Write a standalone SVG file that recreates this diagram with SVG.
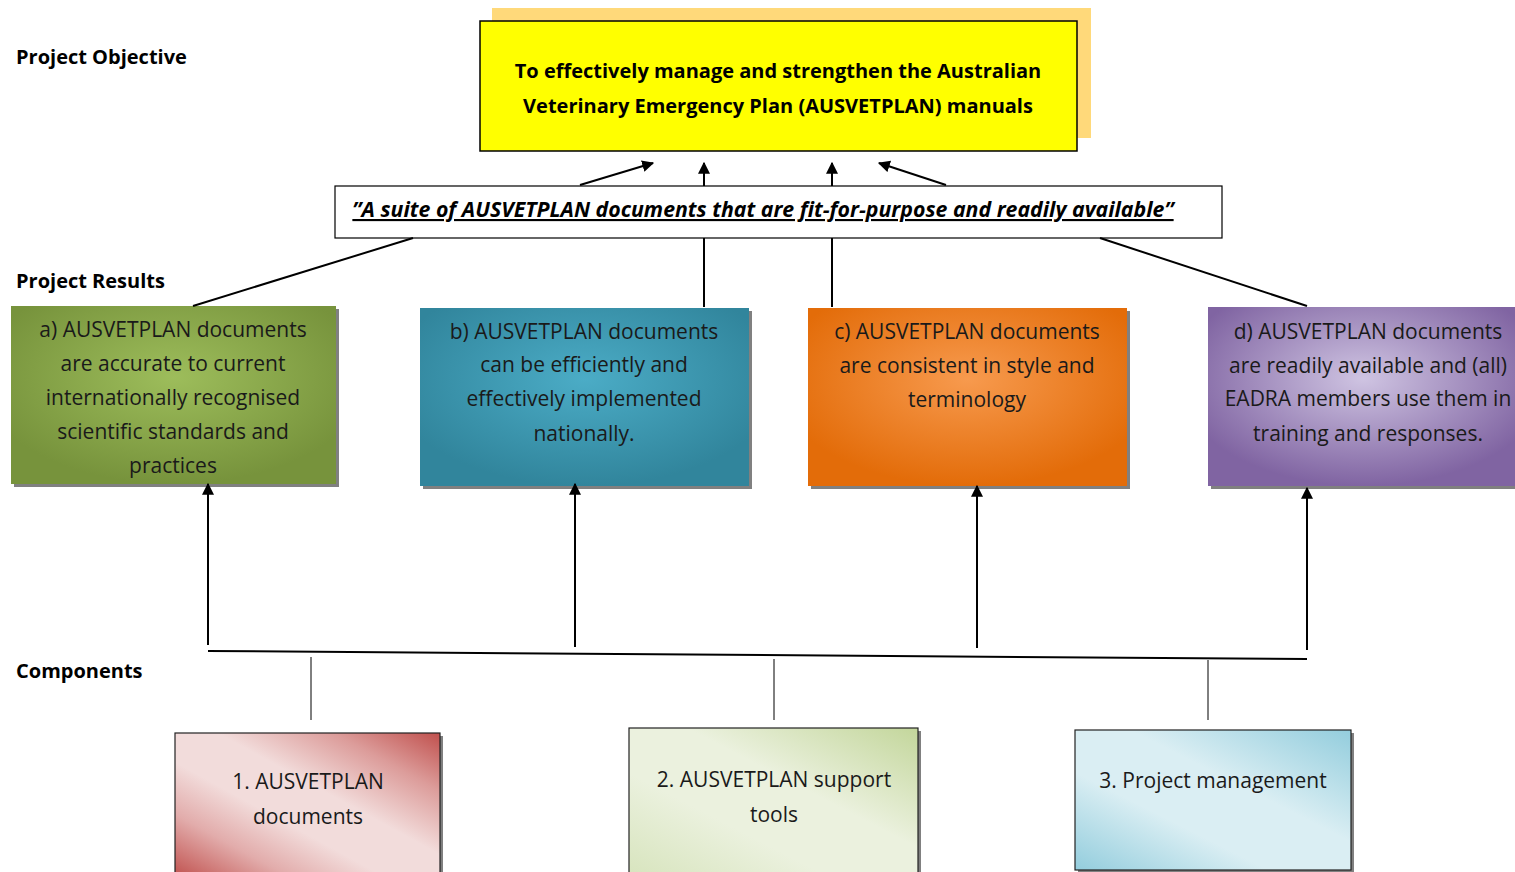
<svg xmlns="http://www.w3.org/2000/svg" width="1515" height="872" viewBox="0 0 1515 872">
<defs>
<style>
.lbl{font-family:"Open Sans","Liberation Sans",sans-serif;font-weight:bold;font-size:20px;fill:#000}
.obj{font-family:"Open Sans","Liberation Sans",sans-serif;font-weight:bold;font-size:20px;fill:#000;text-anchor:middle}
.suite{font-family:"Open Sans","Liberation Sans",sans-serif;font-weight:bold;font-style:italic;font-size:21.3px;fill:#000;text-anchor:middle;text-decoration:underline}
.res{font-family:"Open Sans","Liberation Sans",sans-serif;font-size:21px;fill:#1a1a1a;text-anchor:middle}
.comp{font-family:"Open Sans","Liberation Sans",sans-serif;font-size:21px;fill:#1a1a1a;text-anchor:middle}
.ln{stroke:#000;stroke-width:2;fill:none}
.thin{stroke:#000;stroke-width:1;fill:none}
.shadow{fill:#555;opacity:0.75}
</style>
<marker id="ah2" viewBox="0 0 10 10" refX="9" refY="5" markerWidth="12" markerHeight="12" markerUnits="userSpaceOnUse" orient="auto">
<path d="M0,0 L10,5 L0,10 z" fill="#000"/>
</marker>
<radialGradient id="gGreen" cx="0.5" cy="0.4" r="0.6">
<stop offset="0" stop-color="#9dbd5b"/><stop offset="1" stop-color="#77933c"/>
</radialGradient>
<radialGradient id="gBlue" cx="0.5" cy="0.4" r="0.6">
<stop offset="0" stop-color="#4bacc6"/><stop offset="1" stop-color="#31859c"/>
</radialGradient>
<radialGradient id="gOrange" cx="0.5" cy="0.4" r="0.6">
<stop offset="0" stop-color="#f79a4e"/><stop offset="1" stop-color="#e36c09"/>
</radialGradient>
<radialGradient id="gPurple" cx="0.5" cy="0.4" r="0.6">
<stop offset="0" stop-color="#cfc4e2"/><stop offset="1" stop-color="#8064a2"/>
</radialGradient>
<linearGradient id="gRed" x1="0" y1="1" x2="1" y2="0">
<stop offset="0" stop-color="#c0504d"/><stop offset="0.22" stop-color="#e2acab"/><stop offset="0.4" stop-color="#f2dcdb"/><stop offset="0.58" stop-color="#f2dcdb"/><stop offset="0.8" stop-color="#dc9c9a"/><stop offset="1" stop-color="#c0504d"/>
</linearGradient>
<linearGradient id="gLG" x1="0" y1="1" x2="1" y2="0">
<stop offset="0" stop-color="#d7e4bd"/><stop offset="0.35" stop-color="#ebf1de"/><stop offset="0.6" stop-color="#ebf1de"/><stop offset="1" stop-color="#c3d69b"/>
</linearGradient>
<linearGradient id="gLB" x1="0" y1="1" x2="1" y2="0">
<stop offset="0" stop-color="#93cddd"/><stop offset="0.35" stop-color="#daeef3"/><stop offset="0.6" stop-color="#daeef3"/><stop offset="1" stop-color="#93cddd"/>
</linearGradient>
</defs>
<rect width="1515" height="872" fill="#fff"/>

<g id="labels">
<text class="lbl" x="16" y="64">Project Objective</text>
<text class="lbl" x="16" y="288">Project Results</text>
<text class="lbl" x="16" y="678">Components</text>
</g>

<g id="objective">
<rect x="492" y="8" width="599" height="130" fill="#ffd97a"/>
<rect x="480" y="21" width="597" height="130" fill="#ffff00" stroke="#000" stroke-width="1.5"/>
<text class="obj" x="778" y="78">To effectively manage and strengthen the Australian</text>
<text class="obj" x="778" y="113">Veterinary Emergency Plan (AUSVETPLAN) manuals</text>
</g>

<g id="suite">
<rect x="335" y="186" width="887" height="52" fill="#fff" stroke="#000" stroke-width="1.2"/>
<text class="suite" x="763" y="217">”A suite of AUSVETPLAN documents that are fit-for-purpose and readily available”</text>
</g>

<g id="result-a">
<rect class="shadow" x="14" y="309" width="325" height="178"/>
<rect x="11" y="306" width="325" height="178" fill="url(#gGreen)"/>
<text class="res" x="173" y="337">a) AUSVETPLAN documents</text>
<text class="res" x="173" y="371">are accurate to current</text>
<text class="res" x="173" y="405">internationally recognised</text>
<text class="res" x="173" y="439">scientific standards and</text>
<text class="res" x="173" y="473">practices</text>
</g>

<g id="result-b">
<rect class="shadow" x="423" y="311" width="329" height="178"/>
<rect x="420" y="308" width="329" height="178" fill="url(#gBlue)"/>
<text class="res" x="584" y="339">b) AUSVETPLAN documents</text>
<text class="res" x="584" y="372">can be efficiently and</text>
<text class="res" x="584" y="406">effectively implemented</text>
<text class="res" x="584" y="441">nationally.</text>
</g>

<g id="result-c">
<rect class="shadow" x="811" y="311" width="319" height="178"/>
<rect x="808" y="308" width="319" height="178" fill="url(#gOrange)"/>
<text class="res" x="967" y="339">c) AUSVETPLAN documents</text>
<text class="res" x="967" y="373">are consistent in style and</text>
<text class="res" x="967" y="407">terminology</text>
</g>

<g id="result-d">
<rect class="shadow" x="1211" y="310" width="310" height="179"/>
<rect x="1208" y="307" width="310" height="179" fill="url(#gPurple)"/>
<text class="res" x="1368" y="339">d) AUSVETPLAN documents</text>
<text class="res" x="1368" y="373">are readily available and (all)</text>
<text class="res" x="1368" y="406">EADRA members use them in</text>
<text class="res" x="1368" y="441">training and responses.</text>
</g>

<g id="comp-1">
<rect class="shadow" x="178" y="736" width="265" height="140" opacity="0.35"/>
<rect x="175" y="733" width="265" height="145" fill="url(#gRed)" stroke="#222" stroke-width="1.2"/>
<text class="comp" x="308" y="789">1. AUSVETPLAN</text>
<text class="comp" x="308" y="824">documents</text>
</g>

<g id="comp-2">
<rect class="shadow" x="632" y="731" width="289" height="145" opacity="0.6"/>
<rect x="629" y="728" width="289" height="150" fill="url(#gLG)" stroke="#222" stroke-width="1.2"/>
<text class="comp" x="774" y="787">2. AUSVETPLAN support</text>
<text class="comp" x="774" y="822">tools</text>
</g>

<g id="comp-3">
<rect class="shadow" x="1078" y="733" width="276" height="140" opacity="0.6"/>
<rect x="1075" y="730" width="276" height="140" fill="url(#gLB)" stroke="#222" stroke-width="1.2"/>
<text class="comp" x="1213" y="788">3. Project management</text>
</g>

<g id="connectors">
<line class="ln" x1="580" y1="185" x2="653" y2="163" marker-end="url(#ah2)"/>
<line class="ln" x1="704" y1="186" x2="704" y2="163" marker-end="url(#ah2)"/>
<line class="ln" x1="832" y1="186" x2="832" y2="163" marker-end="url(#ah2)"/>
<line class="ln" x1="946" y1="185" x2="879" y2="163" marker-end="url(#ah2)"/>
<line class="ln" x1="413" y1="238" x2="193" y2="306"/>
<line class="ln" x1="704" y1="238" x2="704" y2="307"/>
<line class="ln" x1="832" y1="238" x2="832" y2="307"/>
<line class="ln" x1="1100" y1="238" x2="1307" y2="306"/>
<line class="ln" x1="208" y1="645" x2="208" y2="484" marker-end="url(#ah2)"/>
<line class="ln" x1="575" y1="647" x2="575" y2="484" marker-end="url(#ah2)"/>
<line class="ln" x1="977" y1="648" x2="977" y2="486" marker-end="url(#ah2)"/>
<line class="ln" x1="1307" y1="650" x2="1307" y2="488" marker-end="url(#ah2)"/>
<line class="ln" x1="208" y1="651" x2="1307" y2="659" stroke="#333"/>
<line class="thin" x1="311" y1="657" x2="311" y2="720"/>
<line class="thin" x1="774" y1="659" x2="774" y2="720"/>
<line class="thin" x1="1208" y1="660" x2="1208" y2="720"/>
</g>
</svg>
